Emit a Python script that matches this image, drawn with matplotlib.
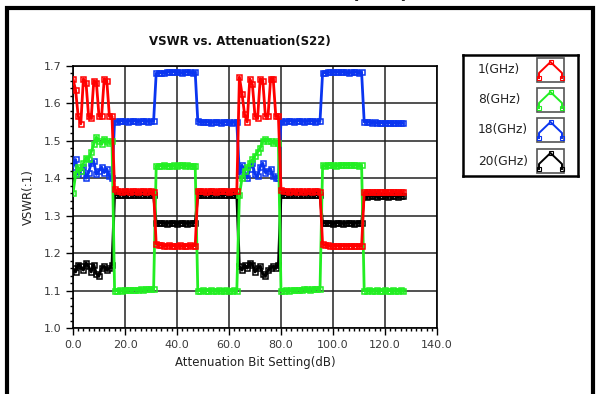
import matplotlib.pyplot as plt
from matplotlib.patches import Rectangle
from matplotlib.ticker import MultipleLocator, FormatStrFormatter

# attenuation bit settings 0..127
atten_setting = list(range(128))

vswr_1ghz = (
    [1.665, 1.635, 1.565, 1.545, 1.665, 1.655, 1.565, 1.560, 1.660, 1.655, 1.565, 1.565, 1.665, 1.660, 1.565, 1.565]
    + [1.370, 1.366, 1.365, 1.364, 1.366, 1.365, 1.364, 1.366, 1.365, 1.364, 1.365, 1.366, 1.364, 1.365, 1.366, 1.364]
    + [1.225, 1.222, 1.221, 1.220, 1.220, 1.221, 1.220, 1.219, 1.220, 1.221, 1.220, 1.219, 1.220, 1.221, 1.220, 1.220]
    + [1.366, 1.365, 1.366, 1.364, 1.365, 1.366, 1.365, 1.364, 1.366, 1.365, 1.365, 1.366, 1.364, 1.365, 1.366, 1.365]
    + [1.670, 1.625, 1.570, 1.550, 1.665, 1.650, 1.565, 1.560, 1.665, 1.660, 1.565, 1.565, 1.665, 1.665, 1.565, 1.565]
    + [1.368, 1.366, 1.365, 1.364, 1.366, 1.365, 1.364, 1.366, 1.365, 1.364, 1.365, 1.366, 1.364, 1.365, 1.366, 1.364]
    + [1.224, 1.222, 1.221, 1.220, 1.220, 1.219, 1.219, 1.220, 1.219, 1.220, 1.219, 1.220, 1.219, 1.220, 1.219, 1.219]
    + [1.363, 1.362, 1.363, 1.362, 1.362, 1.363, 1.362, 1.362, 1.363, 1.362, 1.362, 1.363, 1.362, 1.362, 1.363, 1.362]
)

vswr_8ghz = (
    [1.360, 1.410, 1.430, 1.420, 1.440, 1.455, 1.450, 1.470, 1.490, 1.510, 1.500, 1.490, 1.505, 1.500, 1.495, 1.500]
    + [1.100, 1.100, 1.101, 1.100, 1.101, 1.102, 1.101, 1.102, 1.103, 1.103, 1.104, 1.103, 1.104, 1.104, 1.105, 1.104]
    + [1.433, 1.432, 1.433, 1.434, 1.433, 1.432, 1.433, 1.434, 1.433, 1.435, 1.434, 1.433, 1.434, 1.433, 1.432, 1.433]
    + [1.100, 1.100, 1.101, 1.100, 1.100, 1.101, 1.100, 1.100, 1.101, 1.100, 1.100, 1.101, 1.100, 1.100, 1.101, 1.100]
    + [1.355, 1.400, 1.420, 1.430, 1.440, 1.450, 1.460, 1.470, 1.480, 1.500, 1.505, 1.500, 1.500, 1.495, 1.500, 1.495]
    + [1.100, 1.100, 1.101, 1.100, 1.101, 1.102, 1.101, 1.102, 1.103, 1.104, 1.104, 1.103, 1.104, 1.104, 1.105, 1.104]
    + [1.434, 1.433, 1.434, 1.435, 1.434, 1.433, 1.434, 1.435, 1.434, 1.436, 1.435, 1.434, 1.435, 1.434, 1.433, 1.434]
    + [1.100, 1.100, 1.101, 1.100, 1.100, 1.101, 1.100, 1.100, 1.101, 1.100, 1.100, 1.101, 1.100, 1.100, 1.101, 1.100]
)

vswr_18ghz = (
    [1.430, 1.450, 1.410, 1.420, 1.430, 1.400, 1.415, 1.440, 1.445, 1.410, 1.420, 1.430, 1.415, 1.425, 1.405, 1.400]
    + [1.552, 1.551, 1.552, 1.553, 1.552, 1.551, 1.552, 1.553, 1.552, 1.551, 1.552, 1.553, 1.552, 1.551, 1.552, 1.552]
    + [1.680, 1.680, 1.681, 1.681, 1.682, 1.683, 1.684, 1.683, 1.682, 1.682, 1.681, 1.682, 1.683, 1.682, 1.681, 1.682]
    + [1.552, 1.550, 1.549, 1.550, 1.549, 1.548, 1.549, 1.550, 1.549, 1.548, 1.549, 1.550, 1.549, 1.548, 1.549, 1.549]
    + [1.410, 1.435, 1.420, 1.400, 1.425, 1.440, 1.410, 1.405, 1.430, 1.440, 1.415, 1.420, 1.425, 1.405, 1.400, 1.400]
    + [1.552, 1.551, 1.552, 1.553, 1.552, 1.551, 1.552, 1.553, 1.552, 1.551, 1.552, 1.553, 1.552, 1.551, 1.552, 1.552]
    + [1.681, 1.681, 1.682, 1.682, 1.683, 1.683, 1.682, 1.683, 1.682, 1.682, 1.681, 1.682, 1.683, 1.682, 1.681, 1.682]
    + [1.550, 1.549, 1.549, 1.548, 1.549, 1.548, 1.547, 1.548, 1.547, 1.548, 1.547, 1.546, 1.547, 1.546, 1.547, 1.546]
)

vswr_20ghz = (
    [1.160, 1.150, 1.170, 1.165, 1.155, 1.175, 1.165, 1.150, 1.170, 1.145, 1.140, 1.160, 1.165, 1.155, 1.160, 1.170]
    + [1.356, 1.355, 1.356, 1.355, 1.354, 1.355, 1.356, 1.355, 1.354, 1.355, 1.356, 1.355, 1.354, 1.355, 1.356, 1.355]
    + [1.280, 1.280, 1.281, 1.280, 1.279, 1.280, 1.281, 1.280, 1.279, 1.280, 1.281, 1.280, 1.279, 1.280, 1.281, 1.280]
    + [1.355, 1.354, 1.355, 1.356, 1.355, 1.354, 1.355, 1.356, 1.355, 1.354, 1.355, 1.356, 1.355, 1.354, 1.355, 1.355]
    + [1.165, 1.155, 1.170, 1.160, 1.175, 1.170, 1.150, 1.160, 1.165, 1.145, 1.140, 1.155, 1.160, 1.165, 1.160, 1.170]
    + [1.356, 1.355, 1.356, 1.355, 1.354, 1.355, 1.356, 1.355, 1.354, 1.355, 1.356, 1.355, 1.354, 1.355, 1.356, 1.355]
    + [1.280, 1.280, 1.281, 1.280, 1.279, 1.280, 1.281, 1.280, 1.279, 1.280, 1.281, 1.280, 1.279, 1.280, 1.281, 1.280]
    + [1.352, 1.351, 1.352, 1.353, 1.352, 1.351, 1.352, 1.353, 1.352, 1.351, 1.352, 1.353, 1.352, 1.351, 1.352, 1.352]
)

series_labels = ["1(GHz)", "8(GHz)", "18(GHz)", "20(GHz)"]
series_values = [vswr_1ghz, vswr_8ghz, vswr_18ghz, vswr_20ghz]
series_colors = ["#ff0000", "#22ee22", "#0a35f0", "#000000"]

W, H = 598, 394
fig = plt.figure(figsize=(W / 100, H / 100), dpi=100)
fig.patch.set_facecolor("white")

ax = fig.add_axes([73 / W, 1 - 328.3 / H, 364 / W, 262.6 / H])

# draw order: black first, red on top
for idx in [3, 2, 1, 0]:
    ax.plot(atten_setting, series_values[idx], color=series_colors[idx], lw=2.0,
            marker="s", ms=3.6, mfc="none", mew=1.1, zorder=3)

ax.set_xlim(0, 140)
ax.set_ylim(1.0, 1.7)
ax.xaxis.set_major_locator(MultipleLocator(20))
ax.xaxis.set_minor_locator(MultipleLocator(2))
ax.yaxis.set_major_locator(MultipleLocator(0.1))
ax.yaxis.set_minor_locator(MultipleLocator(0.02))
ax.xaxis.set_major_formatter(FormatStrFormatter("%.1f"))
ax.yaxis.set_major_formatter(FormatStrFormatter("%.1f"))
ax.tick_params(which="major", direction="out", length=5, width=1, labelsize=8, labelcolor="#3a3a3a")
ax.tick_params(which="minor", direction="out", length=2.5, width=1)
ax.grid(True, which="major", color="#222222", lw=1.1, zorder=1)
for s in ax.spines.values():
    s.set_color("black")
    s.set_linewidth(1.2)

ax.set_xlabel("Attenuation Bit Setting(dB)", fontsize=8.5, color="#222222", labelpad=4)
ax.set_ylabel("VSWR(:1)", fontsize=8.5, color="#222222", labelpad=6)
fig.text(240 / W, 1 - 42 / H, "VSWR vs. Attenuation(S22)", ha="center", va="center",
         fontsize=8.5, fontweight="bold", color="#111111")

# legend box drawn in pixel coordinates
lg = fig.add_axes([463 / W, 1 - 176 / H, 115 / W, 121 / H])
lg.set_xlim(463, 578)
lg.set_ylim(176, 55)
lg.set_xticks([])
lg.set_yticks([])
for s in lg.spines.values():
    s.set_linewidth(1.8)
    s.set_color("black")
box_tops = [58, 88, 118, 149]
for lab, col, y0 in zip(series_labels, series_colors, box_tops):
    lg.text(478, y0 + 12, lab, ha="left", va="center", fontsize=8.8, color="#222222")
    lg.add_patch(Rectangle((537, y0), 27, 24, fill=False, ec="#555555", lw=1.2))
    xs = [539, 539, 550.5, 562, 562]
    ys = [y0 + 20, y0 + 15, y0 + 4, y0 + 15, y0 + 20]
    lg.plot(xs, ys, color=col, lw=1.4, marker="s", ms=2.2, mfc="none", mew=0.8,
            markevery=[0, 2, 4])

# outer frame
fig.add_artist(Rectangle((7 / W, -0.05), 586 / W, 1.05 - 8 / H, transform=fig.transFigure,
                         fill=False, ec="black", lw=3))
# caption above the frame, mostly cut off at the top edge
fig.text(380 / W, 1 + 1.5 / H, "(S22)", ha="center", va="baseline", fontsize=14,
         fontweight="bold", color="#222222")

fig.savefig("out.png", dpi=100)
